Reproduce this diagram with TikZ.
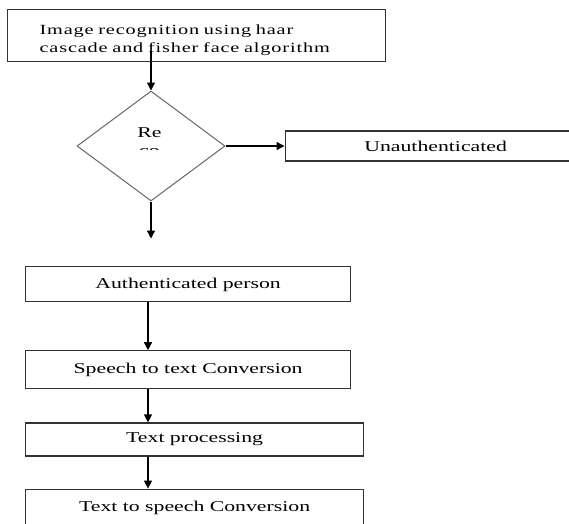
\documentclass[tikz,border=0pt]{standalone}
\usepackage{fontspec}
\usepackage{tikz}
\usetikzlibrary{arrows.meta,positioning,shapes.geometric}

\newfontfamily\lowfont[FakeStretch=1.45]{Liberation Serif}
\newfontfamily\topfont[FakeStretch=1.45,LetterSpace=6]{Liberation Serif}

\begin{document}
\begin{tikzpicture}[
  x=1pt, y=1pt,
  box/.style={draw=black!80, line width=1.2pt, rectangle, inner sep=0pt, align=center,
    font=\lowfont\fontsize{15}{18}\selectfont},
  decision/.style={draw=black!60, line width=1pt, diamond, inner sep=0pt,
    minimum width=148pt, minimum height=110pt},
  arrow/.style={-{Triangle[length=8pt,width=8pt]}, line width=1.3pt}
]
  \clip (0,0) rectangle (569,-523);

  \node[box, anchor=north west, minimum width=378pt, minimum height=52pt,
    text width=314pt, align=left, font=\topfont\fontsize{14}{18}\selectfont]
    (recog) at (7,-9) {\rule{0pt}{19pt}Image recognition using haar\\cascade and fisher face algorithm};
  \node[decision] (dia) at (151,-146) {};
  \node[box, right=59pt of dia, minimum width=301pt, minimum height=30pt] (unauth) {Unauthenticated};
  \coordinate[below=37pt of dia] (gap);

  \node[box, anchor=north west, minimum width=325pt, minimum height=35pt, text depth=1pt] (auth) at (25,-266) {Authenticated person};
  \node[box, below=48pt of auth.south west, anchor=north west, minimum width=325pt, minimum height=38pt] (speech) {Speech to text Conversion};
  \node[box, below=33pt of speech.south west, anchor=north west, minimum width=338pt, minimum height=33pt] (proc) {Text processing};
  \node[box, below=32pt of proc.south west, anchor=north west, minimum width=338pt, minimum height=45pt, text depth=11pt] (tts) {Text to speech Conversion};
  \coordinate (lane) at (148,0);

  % label of the decision, cut off by its own text frame
  \begin{scope}
    \clip (120,-120) rectangle (185,-149.5);
    \node[anchor=north, inner sep=0pt, align=center, font=\lowfont\fontsize{15}{18}\selectfont] (dialabel) at (149.5,-127) {Re\\co};
  \end{scope}

  \draw[arrow] ([yshift=11pt]recog.south -| dia.north) -- (dia.north);
  \draw[arrow] (dia.east) -- (unauth.west);
  \draw[arrow] (dia.south) -- (gap);
  \draw[arrow] (auth.south -| lane) -- (speech.north -| lane);
  \draw[arrow] (speech.south -| lane) -- (proc.north -| lane);
  \draw[arrow] (proc.south -| lane) -- (tts.north -| lane);
\end{tikzpicture}
\end{document}
